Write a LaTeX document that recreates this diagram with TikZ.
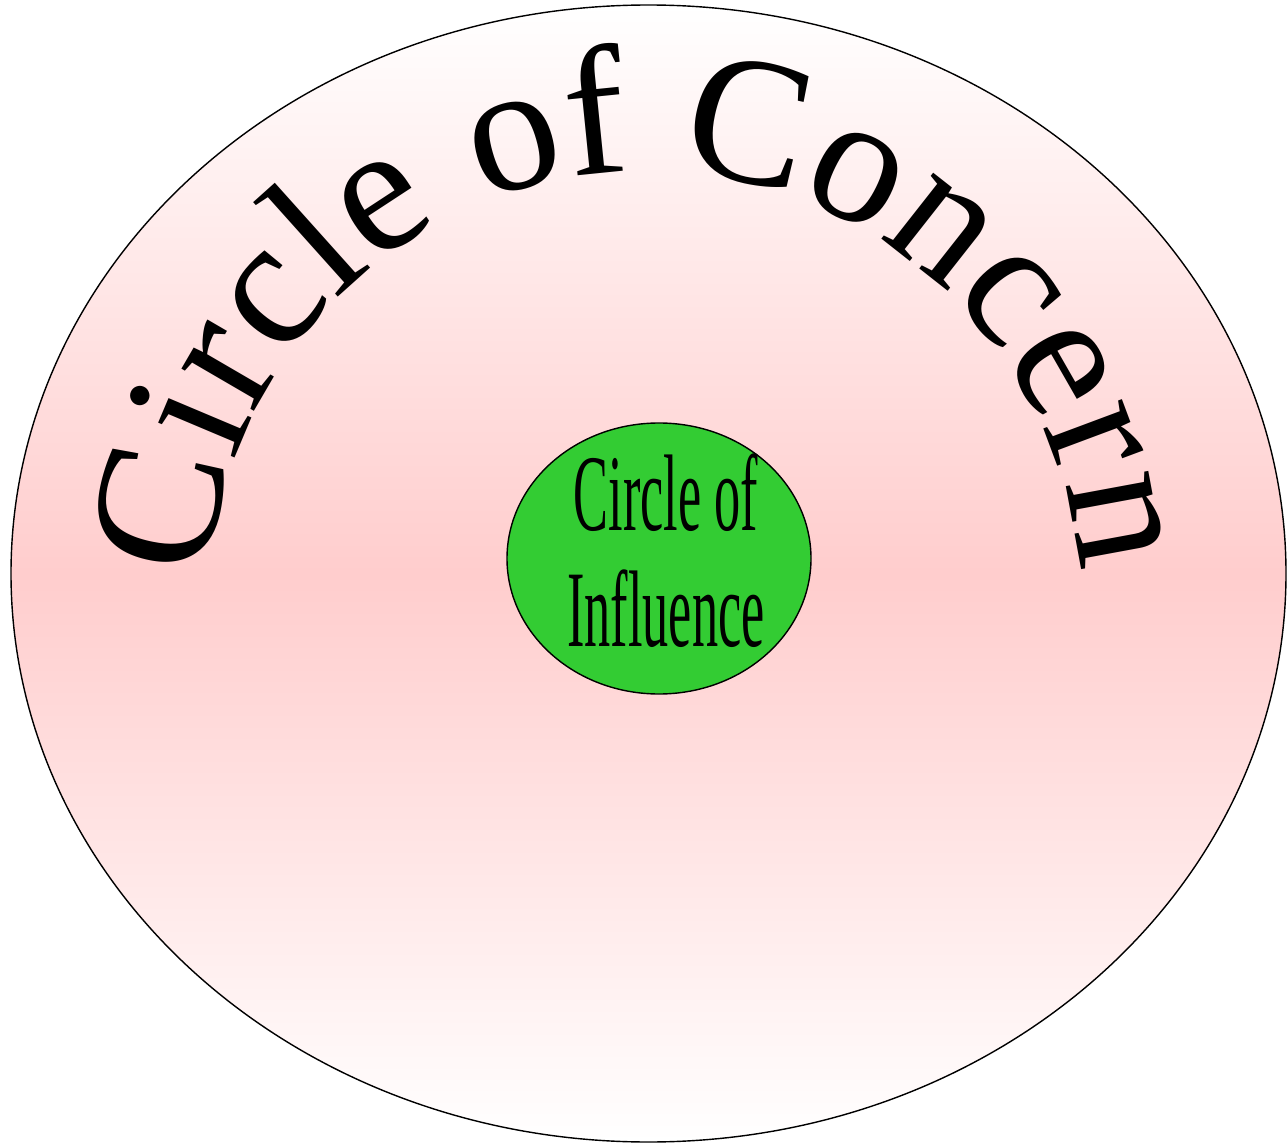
\documentclass[tikz,border=0pt]{standalone}
\usepackage{fontspec}
\setmainfont{Liberation Serif}
\newfontfamily\narrowserif[FakeStretch=0.48]{Liberation Serif}
\newcommand\concernfont{\fontsize{52}{54}\selectfont}
\usetikzlibrary{shapes.geometric,decorations.text}
\definecolor{blush}{RGB}{255,205,205}
\definecolor{leafgreen}{RGB}{51,204,51}

\begin{document}
\begin{tikzpicture}[
  outer/.style={draw, ellipse, minimum width=12.75cm, minimum height=11.37cm,
                top color=white, bottom color=white, middle color=blush},
  inner/.style={draw, ellipse, fill=leafgreen, minimum width=3.04cm,
                minimum height=2.71cm, inner sep=0pt},
  inlabel/.style={align=center, xshift=0.07cm, yshift=0.08cm,
                  font=\narrowserif\fontsize{31}{33}\selectfont}
]
\useasboundingbox (0,0) rectangle (12.87,11.45);
% outer circle
\node[outer] (concern) at (6.485,5.715) {};
\coordinate (arcc) at (6.45,5.38);
\path[decorate, decoration={text along path, text align=center,
      text={|\concernfont|Circle of Concern}}]
  (arcc) ++(181:4.36) arc[start angle=181, end angle=0, radius=4.36];

% inner circle
\node[inner, label={[inlabel]center:{Circle of\\Influence}}] (influence) at (6.59,5.865) {};
\end{tikzpicture}
\end{document}
